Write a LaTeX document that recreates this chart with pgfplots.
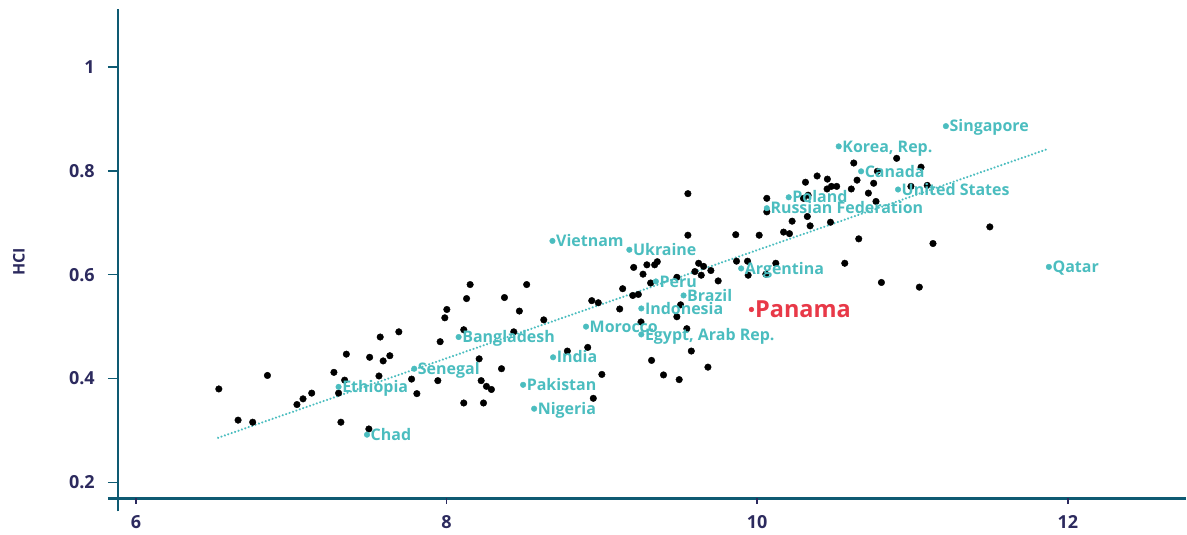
\documentclass[border=0pt]{standalone}
\usepackage{pgfplots}
\pgfplotsset{compat=1.18}
\usepackage{fontspec}
\setmainfont{Open Sans}
\definecolor{axiscol}{RGB}{14,90,114}
\definecolor{tickcol}{RGB}{44,42,94}
\definecolor{tealc}{RGB}{75,189,191}
\definecolor{redc}{RGB}{232,57,72}
\begin{document}
\begin{tikzpicture}
\begin{axis}[
  at={(0,0)}, anchor=south west,
  scale only axis, width=1069pt, height=490pt,
  xmin=5.884, xmax=12.759, ymin=0.16923, ymax=1.1115,
  axis x line=bottom, axis y line=left,
  axis line style={draw=none,-},
  xtick={6,8,10,12}, xticklabels={6,8,10,12},
  ytick={0.2,0.4,0.6,0.8,1}, yticklabels={0.2,0.4,0.6,0.8,1},
  tick align=outside,
  major tick length=10pt,
  y tick style={draw=axiscol, line width=1.6pt},
  x tick style={draw=none},
  tick label style={font=\fontsize{18}{18}\selectfont\bfseries, text=tickcol},
  yticklabel style={anchor=east, inner sep=0pt, xshift=-13pt},
  xticklabel style={anchor=north, inner sep=0pt, yshift=-7pt},
  clip=false,
]
% axis lines with overshoot
\draw[axiscol, line width=2.6pt] ([xshift=-10pt]rel axis cs:0,0) -- (rel axis cs:1,0);
\draw[axiscol, line width=2.6pt] ([yshift=-13pt]rel axis cs:0,0) -- (rel axis cs:0,1);
\draw[tickcol, line width=1.6pt] (axis cs:6,0.16923) -- ([yshift=-6pt]axis cs:6,0.16923);
\draw[tickcol, line width=1.6pt] (axis cs:8,0.16923) -- ([yshift=-6pt]axis cs:8,0.16923);
\draw[tickcol, line width=1.6pt] (axis cs:10,0.16923) -- ([yshift=-6pt]axis cs:10,0.16923);
\draw[tickcol, line width=1.6pt] (axis cs:12,0.16923) -- ([yshift=-6pt]axis cs:12,0.16923);
\node[rotate=90, font=\fontsize{16}{16}\selectfont\bfseries, text=tickcol] at ([xshift=-99pt]rel axis cs:0,0.4837) {HCI};

\addplot[only marks, mark=*, mark size=3.3pt, black, mark options={draw=none, fill=black}] table {
x y
6.534 0.380
6.658 0.320
6.752 0.316
6.847 0.406
7.037 0.350
7.076 0.361
7.132 0.372
7.275 0.412
7.344 0.397
7.305 0.372
7.320 0.316
7.355 0.447
7.500 0.303
7.505 0.441
7.565 0.405
7.573 0.480
7.592 0.434
7.635 0.444
7.693 0.490
7.775 0.399
7.809 0.371
7.944 0.396
7.959 0.471
7.989 0.517
8.002 0.533
8.111 0.494
8.129 0.554
8.152 0.581
8.111 0.353
8.210 0.438
8.223 0.396
8.257 0.385
8.289 0.379
8.238 0.353
8.354 0.419
8.373 0.556
8.433 0.490
8.469 0.530
8.516 0.581
8.626 0.513
8.778 0.453
8.909 0.460
8.935 0.550
8.977 0.546
9.134 0.573
9.115 0.534
9.199 0.560
9.235 0.562
9.205 0.614
9.265 0.601
9.290 0.619
9.340 0.619
9.357 0.625
9.314 0.584
9.483 0.595
9.507 0.542
9.483 0.519
9.547 0.496
9.576 0.453
9.683 0.422
9.320 0.435
9.397 0.407
9.498 0.398
9.252 0.509
9.000 0.408
8.945 0.362
9.623 0.622
9.655 0.616
9.640 0.599
9.599 0.606
9.702 0.608
9.749 0.588
9.554 0.676
9.862 0.677
10.013 0.676
9.867 0.626
9.938 0.626
9.942 0.599
10.056 0.601
9.554 0.756
10.170 0.682
10.208 0.679
10.225 0.703
10.323 0.712
10.341 0.694
10.472 0.701
10.654 0.669
10.564 0.622
10.800 0.585
10.120 0.622
10.062 0.747
10.062 0.721
10.298 0.747
10.328 0.753
10.311 0.778
10.386 0.790
10.452 0.784
10.606 0.765
10.643 0.782
10.716 0.757
10.750 0.776
10.765 0.741
10.450 0.765
10.478 0.770
10.512 0.770
10.622 0.815
10.774 0.799
10.898 0.824
11.055 0.807
10.990 0.770
11.095 0.772
11.044 0.576
11.132 0.660
11.498 0.692
};

\addplot[tealc, line width=2.4pt, line cap=round, dash pattern=on 0.01pt off 3.6pt] table {
x y
6.529 0.286
11.871 0.842
};

\addplot[only marks, mark=*, mark size=2.8pt, color=tealc, mark options={draw=none, fill=tealc},
  point meta=explicit symbolic, nodes near coords,
  every node near coord/.append style={anchor=base west, inner sep=0pt, xshift=3.5pt, yshift=-5.7pt,
    font=\fontsize{16}{16}\selectfont\bfseries, text=tealc}]
  table[x=x, y=y, meta=name, col sep=semicolon] {
x;y;name
11.215;0.886;Singapore
10.525;0.847;Korea, Rep.
10.669;0.799;Canada
10.907;0.764;United States
10.203;0.749;Poland
10.062;0.728;Russian Federation
11.878;0.615;Qatar
9.897;0.612;Argentina
8.682;0.665;Vietnam
9.177;0.648;Ukraine
9.348;0.587;Peru
9.526;0.560;Brazil
9.254;0.535;Indonesia
8.898;0.500;Morocco
9.254;0.485;Egypt, Arab Rep.
8.078;0.480;Bangladesh
8.686;0.441;India
7.792;0.419;Senegal
8.493;0.388;Pakistan
7.305;0.384;Ethiopia
8.564;0.342;Nigeria
7.488;0.292;Chad
};

\addplot[only marks, mark=*, mark size=2.4pt, color=redc, mark options={draw=none, fill=redc},
  point meta=explicit symbolic, nodes near coords,
  every node near coord/.append style={anchor=base west, inner sep=0pt, xshift=3.5pt, yshift=-8.4pt,
    font=\fontsize{23.5}{23.5}\selectfont\bfseries, text=redc}]
  table[x=x, y=y, meta=name, col sep=semicolon] {
x;y;name
9.963;0.533;Panama
};
\end{axis}
\path (-118pt,-36pt) rectangle (1069pt,499pt);
\end{tikzpicture}
\end{document}
